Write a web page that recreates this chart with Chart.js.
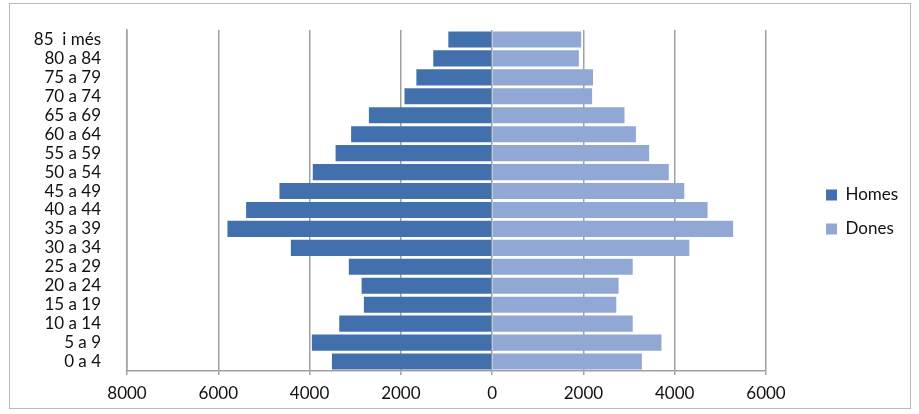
<!DOCTYPE html>
<html>
<head>
<meta charset="utf-8">
<script src="https://cdn.jsdelivr.net/npm/chart.js@4/dist/chart.umd.min.js"></script>
<style>
  html, body { margin: 0; padding: 0; background: #fff; }
  #box { position: absolute; left: 9px; top: 3px; width: 902px; height: 406px;
         border: 1px solid #b8b8b8; box-sizing: border-box; }
  #box canvas { display: block; }
</style>
</head>
<body>
<div id="box"><canvas id="piramide"></canvas></div>
<script>
const edats = ["85  i més", "80 a 84", "75 a 79", "70 a 74", "65 a 69", "60 a 64",
    "55 a 59", "50 a 54", "45 a 49", "40 a 44", "35 a 39", "30 a 34",
    "25 a 29", "20 a 24", "15 a 19", "10 a 14", "5 a 9", "0 a 4"];

const homes = [960, 1290, 1660, 1920, 2700, 3090, 3430, 3930, 4660, 5390, 5800, 4410,
    3140, 2860, 2810, 3350, 3950, 3510];

const dones = [1950, 1900, 2210, 2190, 2900, 3150, 3440, 3870, 4210, 4720, 5280, 4320,
    3080, 2770, 2720, 3080, 3710, 3280];

const ticksX = [-8000, -6000, -4000, -2000, 0, 2000, 4000, 6000];

const font = { family: "Lato", size: 17 };

// moves the legend to the right, away from the plot area
const legendShift = {
    id: "legendShift",
    afterLayout(chart) {
        const lg = chart.legend;
        lg.left += 43;
        lg.right += 43;
        lg.top -= 9;
        lg.bottom -= 9;
    },
};

const data = {
    labels: edats,
    datasets: [
        {
            label: "Homes",
            data: homes.map(v => -v),
            backgroundColor: "#4270ac",
            barPercentage: 0.85,
            categoryPercentage: 1.0,
        },
        {
            label: "Dones",
            data: dones,
            backgroundColor: "#91a8d4",
            barPercentage: 0.85,
            categoryPercentage: 1.0,
        },
    ],
};

const config = {
    type: "bar",
    data: data,
    plugins: [legendShift],
    options: {
        indexAxis: "y",
        responsive: true,
        maintainAspectRatio: false,
        animation: false,
        layout: { padding: { top: 26, bottom: -4, left: 0, right: 0 } },
        scales: {
            x: {
                stacked: true,
                min: -8000,
                max: 6000,
                afterBuildTicks: scale => { scale.ticks = ticksX.map(v => ({ value: v })); },
                afterFit: scale => { scale.paddingRight = 144; },
                ticks: {
                    callback: v => Math.abs(v),
                    color: "#111",
                    font: { family: "Lato", size: 17, lineHeight: 1.0 },
                    padding: 10,
                },
                grid: { color: "#a0a0a0", lineWidth: 1.5, drawTicks: true, tickLength: 4 },
                border: { color: "#a0a0a0", width: 1.5 },
            },
            y: {
                stacked: true,
                afterFit: scale => {
                    scale.width = 117;
                    scale.paddingTop = 0;
                    scale.paddingBottom = 0;
                },
                ticks: {
                    color: "#111",
                    font: font,
                    autoSkip: false,
                    padding: 26,
                },
                grid: { display: false, drawTicks: false },
                border: { color: "#a0a0a0", width: 1.5 },
            },
        },
        plugins: {
            legend: {
                position: "right",
                labels: {
                    boxWidth: 11,
                    boxHeight: 11,
                    padding: 17,
                    color: "#111",
                    font: font,
                },
            },
            tooltip: { enabled: false },
        },
    },
};

let myChart = new Chart(document.getElementById("piramide"), config);
</script>
</body>
</html>
